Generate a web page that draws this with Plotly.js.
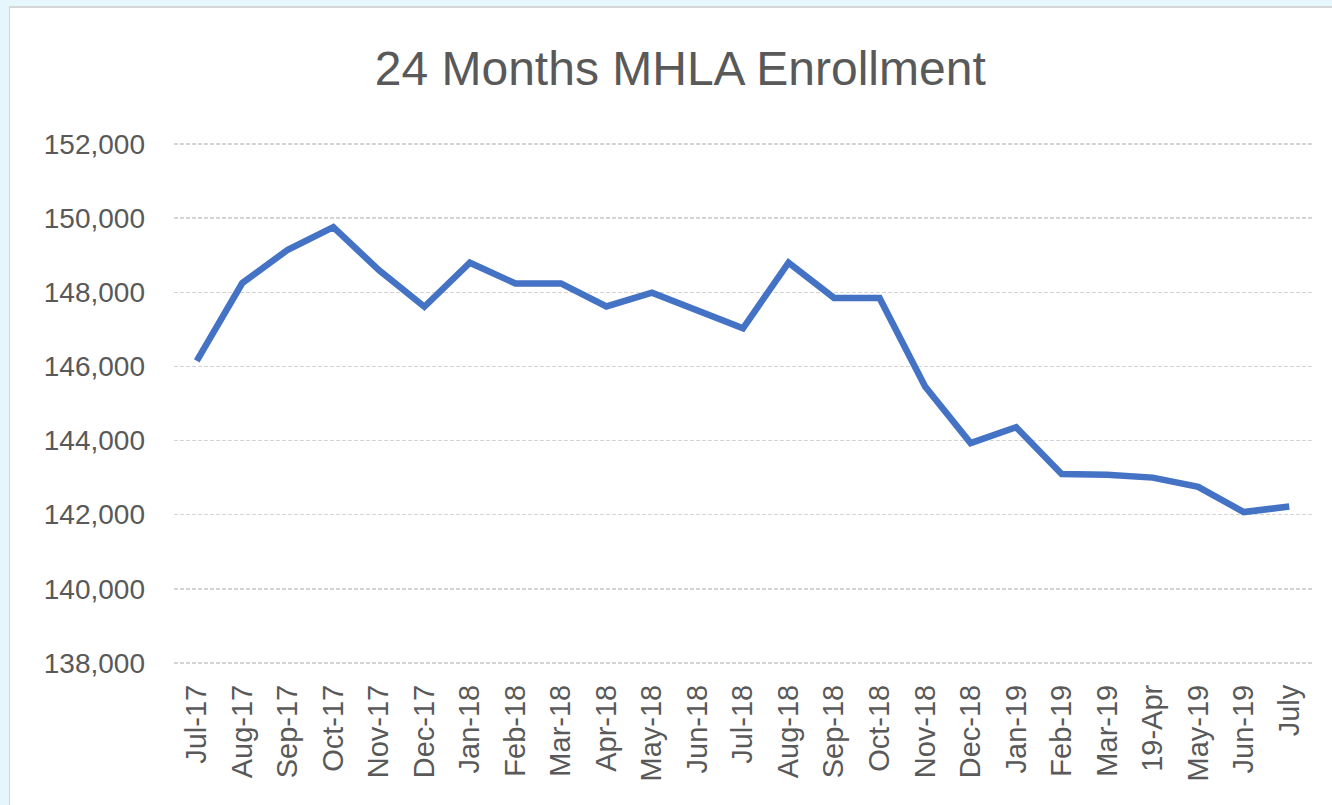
<!DOCTYPE html>
<html>
<head>
<meta charset="utf-8">
<script src="https://cdn.plot.ly/plotly-3.0.1.min.js"></script>
<style>
  html, body { margin: 0; padding: 0; background: #e6f6fd; width: 1332px; height: 805px; overflow: hidden; }
  #frame { position: absolute; left: 9px; top: 6px; width: 1323px; height: 799px;
           border-top: 2px solid #d6d6d6; border-left: 1px solid #d6d6d6; box-sizing: border-box; background: #ffffff; }
  #chart { position: absolute; left: 0; top: 0; width: 1322px; height: 797px; }
</style>
</head>
<body>
<div id="frame"><div id="chart"></div></div>
<script>
const months = ["Jul-17","Aug-17","Sep-17","Oct-17","Nov-17","Dec-17","Jan-18","Feb-18","Mar-18","Apr-18",
                "May-18","Jun-18","Jul-18","Aug-18","Sep-18","Oct-18","Nov-18","Dec-18","Jan-19","Feb-19",
                "Mar-19","19-Apr","May-19","Jun-19","July"];
const enrollment = [146150,148250,149150,149760,148600,147610,148800,148240,148240,147620,
                    147990,147500,147030,148800,147850,147850,145460,143930,144360,143100,
                    143080,143000,142750,142070,142220];
const yTicks = [138000,140000,142000,144000,146000,148000,150000,152000];
const chartTitle = "24 Months MHLA Enrollment";

const textColor = "#595959";
const fontFamily = "Liberation Sans, Arial, sans-serif";

const trace = {
  type: "scatter",
  mode: "lines",
  x: months,
  y: enrollment,
  line: { color: "#4472C4", width: 6.5, shape: "linear" },
  hoverinfo: "skip"
};

const layout = {
  width: 1322,
  height: 797,
  paper_bgcolor: "#ffffff",
  plot_bgcolor: "#ffffff",
  margin: { l: 164, r: 20, t: 135, b: 141 },
  showlegend: false,
  title: {
    text: chartTitle,
    font: { family: fontFamily, size: 48, color: textColor },
    xref: "container", yref: "container",
    x: 0.507, y: 0.925, xanchor: "center", yanchor: "middle"
  },
  xaxis: {
    type: "category",
    range: [-0.5, 24.5],
    tickangle: -90,
    showgrid: false,
    zeroline: false,
    showline: false,
    ticks: "",
    ticklabelstandoff: 14,
    tickfont: { family: fontFamily, size: 29, color: textColor },
    fixedrange: true
  },
  yaxis: {
    range: [137970, 152030],
    tickvals: yTicks,
    tickformat: ",d",
    showgrid: true,
    gridcolor: "#d4d4d4",
    gridwidth: 1.5,
    griddash: "4px,2px",
    zeroline: false,
    showline: false,
    ticks: "",
    ticklabelstandoff: 28,
    tickfont: { family: fontFamily, size: 28, color: textColor },
    fixedrange: true
  }
};

Plotly.newPlot("chart", [trace], layout, { displayModeBar: false, staticPlot: true });
</script>
</body>
</html>
